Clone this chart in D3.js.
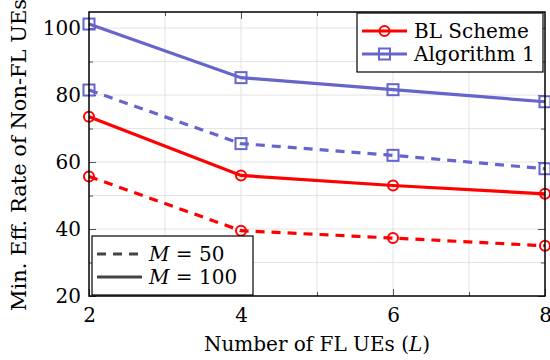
<!DOCTYPE html>
<html>
<head>
<meta charset="utf-8">
<script src="https://cdn.jsdelivr.net/npm/d3@7"></script>
<style>
  body { margin: 0; background: #fff; }
  svg, svg text, svg tspan { font-family: "DejaVu Serif", serif !important; }
</style>
</head>
<body>
<svg id="chart" width="550" height="360"></svg>
<script>
// number of FL UEs
const flUEs = [2, 4, 6, 8];
// min. effective rate of non-FL UEs
const blM50 = [55.7, 39.5, 37.3, 35.0];
const blM100 = [73.5, 56.0, 53.0, 50.5];
const algM50 = [81.5, 65.5, 62.0, 58.0];
const algM100 = [101.2, 85.2, 81.6, 78.0];
const xTicks = [2, 4, 6, 8];
const yTicks = [20, 40, 60, 80, 100];

const red = '#ff0000';
const blue = '#6565cc';
const serif = '"DejaVu Serif", serif';
const fs = 20;

const margin = { top: 12, right: 5, bottom: 64, left: 89 };
const width = 550 - margin.left - margin.right;
const height = 360 - margin.top - margin.bottom;

const svg = d3.select('#chart').attr('font-family', serif);
const g = svg.append('g').attr('transform', `translate(${margin.left},${margin.top})`);

const x = d3.scaleLinear().domain([2, 8]).range([0, width]);
const y = d3.scaleLinear().domain([20, 104.8]).range([height, 0]);

// grid
g.append('g').selectAll('line').data(d3.range(3, 8)).join('line')
  .attr('x1', d => x(d)).attr('x2', d => x(d)).attr('y1', 0).attr('y2', height)
  .attr('stroke', '#e3e3e3').attr('stroke-width', 1);
g.append('g').selectAll('line').data(d3.range(30, 104, 10)).join('line')
  .attr('x1', 0).attr('x2', width).attr('y1', d => y(d)).attr('y2', d => y(d))
  .attr('stroke', '#e3e3e3').attr('stroke-width', 1);

// ticks (inward, on all four sides)
const tickStyle = sel => {
  sel.attr('font-family', serif);
  sel.select('.domain').remove();
  sel.selectAll('line').attr('stroke', '#555').attr('stroke-width', 1);
  sel.selectAll('text').attr('font-size', fs).attr('fill', '#000').attr('font-family', serif);
};
g.append('g').attr('transform', `translate(0,${height})`)
  .call(d3.axisBottom(x).tickValues(xTicks).tickSize(-7).tickPadding(12).tickFormat(d3.format('d')))
  .call(tickStyle);
g.append('g').attr('transform', `translate(0,${height})`)
  .call(d3.axisBottom(x).tickValues(d3.range(3, 8, 2)).tickSize(-4).tickFormat(''))
  .call(tickStyle);
g.append('g')
  .call(d3.axisTop(x).tickValues(xTicks.slice(1, 3)).tickSize(-7).tickFormat(''))
  .call(tickStyle);
g.append('g')
  .call(d3.axisTop(x).tickValues(d3.range(3, 8, 2)).tickSize(-4).tickFormat(''))
  .call(tickStyle);
g.append('g')
  .call(d3.axisLeft(y).tickValues(yTicks).tickSize(-7).tickPadding(8).tickFormat(d3.format('d')))
  .call(tickStyle);
g.append('g')
  .call(d3.axisLeft(y).tickValues(d3.range(30, 104, 20)).tickSize(-4).tickFormat(''))
  .call(tickStyle);
g.append('g').attr('transform', `translate(${width},0)`)
  .call(d3.axisRight(y).tickValues(yTicks).tickSize(-7).tickFormat(''))
  .call(tickStyle);
g.append('g').attr('transform', `translate(${width},0)`)
  .call(d3.axisRight(y).tickValues(d3.range(30, 104, 20)).tickSize(-4).tickFormat(''))
  .call(tickStyle);

// series
const series = [
  { vals: blM50, color: red, mark: 'circle', dash: '9,7' },
  { vals: algM50, color: blue, mark: 'square', dash: '9,7' },
  { vals: blM100, color: red, mark: 'circle', dash: null },
  { vals: algM100, color: blue, mark: 'square', dash: null }
];
const line = d3.line().x(d => x(d[0])).y(d => y(d[1]));

series.forEach(s => {
  const pts = flUEs.map((v, i) => [v, s.vals[i]]);
  g.append('path').datum(pts)
    .attr('d', line).attr('fill', 'none')
    .attr('stroke', s.color).attr('stroke-width', 3.2)
    .attr('stroke-dasharray', s.dash);
  if (s.mark === 'circle') {
    g.append('g').selectAll('circle').data(pts).join('circle')
      .attr('cx', d => x(d[0])).attr('cy', d => y(d[1])).attr('r', 5)
      .attr('fill', 'none').attr('stroke', s.color).attr('stroke-width', 2);
  } else {
    g.append('g').selectAll('rect').data(pts).join('rect')
      .attr('x', d => x(d[0]) - 5.5).attr('y', d => y(d[1]) - 5.5)
      .attr('width', 11).attr('height', 11)
      .attr('fill', 'none').attr('stroke', s.color).attr('stroke-width', 2);
  }
});

// frame
g.append('rect').attr('width', width).attr('height', height)
  .attr('fill', 'none').attr('stroke', '#000').attr('stroke-width', 1.5);

// legend: schemes
const lg1 = svg.append('g').attr('transform', 'translate(357,13)');
lg1.append('rect').attr('width', 186).attr('height', 59)
  .attr('fill', '#fff').attr('stroke', '#000').attr('stroke-width', 1.2);
[
  { label: 'BL Scheme', color: red, mark: 'circle' },
  { label: 'Algorithm 1', color: blue, mark: 'square' }
].forEach((e, i) => {
  const yy = 18 + i * 23;
  lg1.append('line').attr('x1', 5).attr('x2', 50).attr('y1', yy).attr('y2', yy)
    .attr('stroke', e.color).attr('stroke-width', 3.2);
  if (e.mark === 'circle') {
    lg1.append('circle').attr('cx', 27.5).attr('cy', yy).attr('r', 5)
      .attr('fill', 'none').attr('stroke', e.color).attr('stroke-width', 2);
  } else {
    lg1.append('rect').attr('x', 22).attr('y', yy - 5.5).attr('width', 11).attr('height', 11)
      .attr('fill', 'none').attr('stroke', e.color).attr('stroke-width', 2);
  }
  lg1.append('text').attr('x', 57).attr('y', yy + 7).attr('font-size', fs)
    .attr('font-family', serif).text(e.label);
});

// legend: M
const lg2 = svg.append('g').attr('transform', 'translate(92,236)');
lg2.append('rect').attr('width', 161).attr('height', 59)
  .attr('fill', '#fff').attr('stroke', '#000').attr('stroke-width', 1.2);
[
  { m: '50', dash: '9,7' },
  { m: '100', dash: null }
].forEach((e, i) => {
  const yy = 18 + i * 23;
  lg2.append('line').attr('x1', 5).attr('x2', 50).attr('y1', yy).attr('y2', yy)
    .attr('stroke', '#444').attr('stroke-width', 3.2).attr('stroke-dasharray', e.dash);
  const t = lg2.append('text').attr('x', 57).attr('y', yy + 7).attr('font-size', fs)
    .attr('font-family', serif);
  t.append('tspan').attr('font-style', 'italic').text('M');
  t.append('tspan').text(' = ' + e.m);
});

// axis titles
svg.append('text').attr('x', margin.left + width / 2).attr('y', 351)
  .attr('text-anchor', 'middle').attr('font-size', fs).attr('font-family', serif)
  .call(t => {
    t.append('tspan').text('Number of FL UEs (');
    t.append('tspan').attr('font-style', 'italic').text('L');
    t.append('tspan').text(')');
  });
svg.append('text')
  .attr('transform', 'translate(26,155) rotate(-90)')
  .attr('text-anchor', 'middle').attr('font-size', 21).attr('font-family', serif)
  .text('Min. Eff. Rate of Non-FL UEs');
</script>
</body>
</html>
